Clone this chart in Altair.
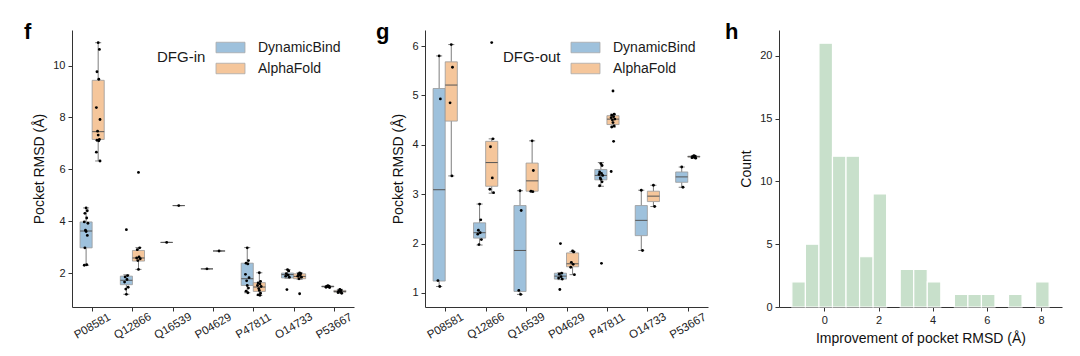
import json
import altair as alt
import pandas as pd

PROTEINS = ["P08581", "Q12866", "Q16539", "P04629", "P47811", "O14733", "P53667"]
METHODS = ["DynamicBind", "AlphaFold"]
COLORS = ["#9ec1dc", "#f5c69b"]

# ---- panel f (DFG-in): box statistics per protein ----
F_DB_LOW = [2.30, 1.18, 3.18, 2.16, 1.24, 1.80, 1.44]
F_DB_Q1 = [2.97, 1.55, 3.18, 2.16, 1.52, 1.81, 1.46]
F_DB_MED = [3.62, 1.72, 3.18, 2.16, 1.78, 1.94, 1.48]
F_DB_Q3 = [3.97, 1.88, 3.18, 2.16, 2.38, 2.00, 1.50]
F_DB_HIGH = [4.51, 1.93, 3.18, 2.16, 2.98, 2.13, 1.51]
F_AF_LOW = [6.32, 2.14, 4.60, 2.85, 1.14, 1.76, 1.22]
F_AF_Q1 = [7.15, 2.46, 4.60, 2.85, 1.29, 1.78, 1.26]
F_AF_MED = [7.45, 2.58, 4.60, 2.85, 1.46, 1.87, 1.29]
F_AF_Q3 = [9.43, 2.87, 4.60, 2.85, 1.63, 1.97, 1.33]
F_AF_HIGH = [10.88, 2.98, 4.60, 2.85, 2.01, 2.01, 1.37]
F_DB_POINTS = [
    [4.51, 4.40, 4.30, 4.12, 3.97, 3.92, 3.65, 3.60, 3.45, 2.97, 2.32, 2.30],
    [3.67, 1.90, 1.85, 1.75, 1.65, 1.45, 1.38, 1.18],
    [3.18],
    [2.16],
    [2.97, 2.48, 2.38, 2.35, 1.95, 1.82, 1.70, 1.52, 1.42, 1.30, 1.24],
    [2.13, 2.08, 1.98, 1.92, 1.88, 1.84, 1.36],
    [1.51, 1.49, 1.48, 1.47, 1.45, 1.44],
]
F_AF_POINTS = [
    [10.88, 10.62, 9.76, 9.47, 8.38, 7.92, 7.47, 7.32, 7.15, 7.12, 7.10, 6.66, 6.32],
    [5.88, 2.97, 2.90, 2.62, 2.58, 2.55, 2.48, 2.14],
    [4.60],
    [2.85],
    [2.01, 1.68, 1.62, 1.58, 1.52, 1.48, 1.40, 1.33, 1.22, 1.16, 1.14],
    [2.00, 1.98, 1.96, 1.92, 1.88, 1.84, 1.78, 1.20],
    [1.37, 1.33, 1.30, 1.28, 1.25, 1.22],
]

# ---- panel g (DFG-out) ----
G_DB_LOW = [1.13, 1.97, 0.97, 1.27, 3.16, 1.86, 3.14]
G_DB_Q1 = [1.24, 2.11, 1.03, 1.28, 3.29, 2.16, 3.24]
G_DB_MED = [3.09, 2.22, 1.86, 1.34, 3.38, 2.47, 3.35]
G_DB_Q3 = [5.14, 2.42, 2.77, 1.40, 3.50, 2.77, 3.45]
G_DB_HIGH = [5.80, 2.80, 3.07, 1.41, 3.64, 3.08, 3.55]
G_AF_LOW = [3.37, 3.02, 3.05, 1.37, 4.36, 2.75, 3.73]
G_AF_Q1 = [4.48, 3.16, 3.06, 1.53, 4.41, 2.85, 3.75]
G_AF_MED = [5.21, 3.64, 3.27, 1.59, 4.52, 2.96, 3.76]
G_AF_Q3 = [5.68, 4.07, 3.63, 1.81, 4.59, 3.06, 3.77]
G_AF_HIGH = [6.03, 4.12, 4.08, 1.84, 4.62, 3.18, 3.78]
G_DB_POINTS = [
    [5.80, 4.93, 1.25, 1.13],
    [2.80, 2.48, 2.27, 2.22, 2.19, 2.08, 1.98],
    [3.07, 2.67, 1.05, 0.97],
    [2.00, 1.40, 1.38, 1.33, 1.30, 1.28, 1.07],
    [3.62, 3.58, 3.45, 3.42, 3.40, 3.38, 3.33, 3.30, 3.25, 3.17, 1.60],
    [3.08, 1.86],
    [3.55, 3.14],
]
G_AF_POINTS = [
    [6.03, 5.57, 4.85, 3.37],
    [6.07, 4.12, 3.96, 3.33, 3.10, 3.03],
    [4.08, 3.48, 3.06, 3.05],
    [1.85, 1.83, 1.62, 1.58, 1.52, 1.37],
    [5.09, 4.62, 4.60, 4.57, 4.55, 4.52, 4.50, 4.45, 4.38, 4.36, 4.07, 3.46],
    [3.18, 2.75],
    [3.78, 3.77, 3.76, 3.75, 3.74, 3.73],
]

# ---- panel h: histogram ----
HIST_EDGES = [-1.2, -0.7, -0.2, 0.3, 0.8, 1.3, 1.8, 2.3, 2.8, 3.3,
              3.8, 4.3, 4.8, 5.3, 5.8, 6.3, 6.8, 7.3, 7.8, 8.3]
HIST_COUNTS = [2, 5, 21, 12, 12, 4, 9, 0, 3, 3, 2, 0, 1, 1, 1, 0, 1, 0, 2]

FONT = "Liberation Sans"
JITTER = [0.0, 0.03, -0.03, 0.015, -0.045, 0.045, -0.015]
HALF = 0.15


def build_frames(stats, points):
    box_rows, pt_rows = [], []
    for m, method in enumerate(METHODS):
        lo, q1, med, q3, hi = stats[m]
        shift = -HALF if m == 0 else HALF
        for i, prot in enumerate(PROTEINS):
            c = i + shift
            box_rows.append(dict(method=method, protein=prot, center=c,
                                 left=c - HALF, right=c + HALF,
                                 capl=c - HALF / 2, capr=c + HALF / 2,
                                 lo=lo[i], q1=q1[i], med=med[i], q3=q3[i], hi=hi[i]))
            for k, v in enumerate(points[m][i]):
                pt_rows.append(dict(method=method, protein=prot,
                                    xj=c + JITTER[k % len(JITTER)], value=v))
    return pd.DataFrame(box_rows), pd.DataFrame(pt_rows)


def box_panel(stats, points, ydomain, yvalues, letter, letter_x, legend_title, legend_x, width):
    box_df, pts_df = build_frames(stats, points)
    xs = alt.Scale(domain=[-0.5, 6.5], nice=False, zero=False)
    ys = alt.Scale(domain=ydomain, nice=False, zero=False)
    xa = alt.Axis(values=list(range(7)), title=None,
                  labelExpr=json.dumps(PROTEINS) + "[datum.value]",
                  labelAngle=330, labelAlign="center", labelBaseline="middle",
                  labelPadding=15, labelFontSize=11.5, labelOverlap=False)
    ya = alt.Axis(values=yvalues, title="Pocket RMSD (Å)")

    def X(f):
        return alt.X(f, type="quantitative", scale=xs, axis=xa)

    def Y(f):
        return alt.Y(f, type="quantitative", scale=ys, axis=ya)

    base = alt.Chart(box_df)
    wcol = "#7d7d7d"
    w_lo = base.mark_rule(color=wcol, strokeWidth=1).encode(x=X("center"), y=Y("lo"), y2="q1")
    w_hi = base.mark_rule(color=wcol, strokeWidth=1).encode(x=X("center"), y=Y("q3"), y2="hi")
    c_lo = base.mark_rule(color=wcol, strokeWidth=1).encode(x=X("capl"), x2="capr", y=Y("lo"))
    c_hi = base.mark_rule(color=wcol, strokeWidth=1).encode(x=X("capl"), x2="capr", y=Y("hi"))
    box = base.mark_rect(stroke="#999999", strokeWidth=0.8, opacity=1).encode(
        x=X("left"), x2="right", y=Y("q1"), y2="q3",
        color=alt.Color("method:N", scale=alt.Scale(domain=METHODS, range=COLORS),
                        legend=alt.Legend(
                            title=legend_title, orient="none", legendX=legend_x, legendY=8,
                            titleOrient="left", titleAnchor="middle", titleBaseline="middle",
                            titleFontSize=15, titleFontWeight="normal", titleColor="#1a1a1a",
                            titleFont=FONT, titlePadding=15,
                            labelFontSize=14, labelColor="#1a1a1a", labelFont=FONT,
                            labelOffset=18,
                            symbolType="M-1.6,-0.58H1.6V0.58H-1.6Z", symbolSize=328,
                            symbolStrokeColor="#aaaaaa", symbolStrokeWidth=0.8,
                            symbolOpacity=1, rowPadding=4, padding=0, offset=0)))
    med = base.mark_rule(color="#555555", strokeWidth=1).encode(x=X("left"), x2="right", y=Y("med"))
    pts = alt.Chart(pts_df).mark_circle(size=8, color="black", opacity=1).encode(
        x=X("xj"), y=Y("value"))
    lab = alt.Chart(pd.DataFrame({"t": [letter]})).mark_text(
        font=FONT, fontSize=22, fontWeight="bold", color="black",
        align="left", baseline="alphabetic").encode(
        text="t:N", x=alt.value(letter_x), y=alt.value(9))
    return alt.layer(w_lo, w_hi, c_lo, c_hi, box, med, pts, lab).properties(width=width, height=277)


f_panel = box_panel(
    [(F_DB_LOW, F_DB_Q1, F_DB_MED, F_DB_Q3, F_DB_HIGH),
     (F_AF_LOW, F_AF_Q1, F_AF_MED, F_AF_Q3, F_AF_HIGH)],
    [F_DB_POINTS, F_AF_POINTS], [0.69, 11.37], [2, 4, 6, 8, 10],
    "f", -48, "DFG-in", 85, 282)

g_panel = box_panel(
    [(G_DB_LOW, G_DB_Q1, G_DB_MED, G_DB_Q3, G_DB_HIGH),
     (G_AF_LOW, G_AF_Q1, G_AF_MED, G_AF_Q3, G_AF_HIGH)],
    [G_DB_POINTS, G_AF_POINTS], [0.715, 6.325], [1, 2, 3, 4, 5, 6],
    "g", -49, "DFG-out", 78, 283)

hist_df = pd.DataFrame({"start": HIST_EDGES[:-1], "end": HIST_EDGES[1:], "count": HIST_COUNTS})
bars = alt.Chart(hist_df).transform_filter("datum.count > 0").mark_rect(
    fill="#c8e0cb", stroke="white", strokeWidth=1.2).encode(
    x=alt.X("start:Q", scale=alt.Scale(domain=[-1.675, 8.775], nice=False, zero=False),
            axis=alt.Axis(values=[0, 2, 4, 6, 8], title="Improvement of pocket RMSD (Å)")),
    x2="end:Q",
    y=alt.Y("count:Q", scale=alt.Scale(domain=[0, 22.05], nice=False, zero=False),
            axis=alt.Axis(values=[0, 5, 10, 15, 20], title="Count")),
    y2=alt.datum(0))
h_lab = alt.Chart(pd.DataFrame({"t": ["h"]})).mark_text(
    font=FONT, fontSize=22, fontWeight="bold", color="black",
    align="left", baseline="alphabetic").encode(
    text="t:N", x=alt.value(-54), y=alt.value(9))
h_panel = alt.layer(bars, h_lab).properties(width=283, height=277)

chart = (
    alt.hconcat(f_panel, g_panel, h_panel, spacing=71, bounds="flush")
    .resolve_scale(color="independent", x="independent", y="independent")
    .resolve_legend(color="independent")
    .properties(padding={"left": 24, "top": 21, "right": 5, "bottom": 5})
    .configure_view(stroke=None)
    .configure_axis(grid=False, domainColor="#333333", tickColor="#333333", tickSize=4,
                    domainWidth=1, tickWidth=1, labelFont=FONT, labelFontSize=11,
                    labelColor="#222222", titleFont=FONT, titleFontSize=14,
                    titleFontWeight="normal", titleColor="#111111", labelPadding=3,
                    titlePadding=6, zindex=1)
)

chart.save("out.html", embed_options={"renderer": "svg", "actions": False})
